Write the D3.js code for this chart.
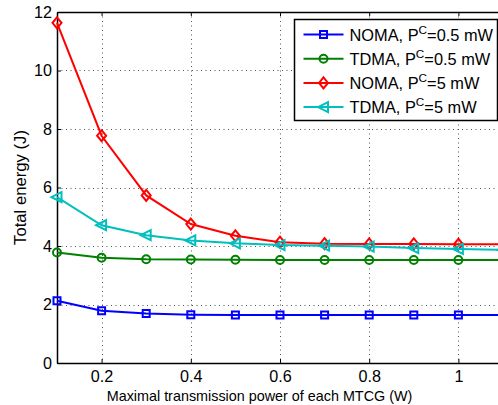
<!DOCTYPE html>
<html>
<head>
<meta charset="utf-8">
<script src="https://cdn.jsdelivr.net/npm/d3@7"></script>
<style>
  body { margin: 0; background: #fff; }
  svg { display: block; }
  text { font-family: "Liberation Sans", Arial, Helvetica, sans-serif; fill: #000; }
</style>
</head>
<body>
<div id="chart"></div>
<script>
// x values: maximal transmission power (W)
var power = [0.1, 0.2, 0.3, 0.4, 0.5, 0.6, 0.7, 0.8, 0.9, 1.0, 1.1];

// total energy (J)
var nomaLow  = [2.13, 1.79, 1.69, 1.65, 1.64, 1.64, 1.64, 1.64, 1.64, 1.64, 1.64];
var tdmaLow  = [3.78, 3.60, 3.55, 3.54, 3.53, 3.52, 3.52, 3.52, 3.52, 3.52, 3.52];
var nomaHigh = [11.63, 7.77, 5.73, 4.75, 4.35, 4.13, 4.08, 4.07, 4.07, 4.06, 4.06];
var tdmaHigh = [5.67, 4.71, 4.37, 4.19, 4.09, 4.03, 4.01, 3.98, 3.93, 3.90, 3.87];

var xTicks = [0.2, 0.4, 0.6, 0.8, 1];
var yTicks = [0, 2, 4, 6, 8, 10, 12];

var series = [
  { name: "NOMA, P", sup: "C", rest: "=0.5 mW", values: nomaLow,  color: "#0000ff", marker: "square" },
  { name: "TDMA, P", sup: "C", rest: "=0.5 mW", values: tdmaLow,  color: "#008000", marker: "circle" },
  { name: "NOMA, P", sup: "C", rest: "=5 mW",   values: nomaHigh, color: "#ff0000", marker: "diamond" },
  { name: "TDMA, P", sup: "C", rest: "=5 mW",   values: tdmaHigh, color: "#00bfbf", marker: "triangle" }
];

var config = {
  width: 498,
  height: 405,
  plot: { left: 57, top: 12, right: 503, bottom: 363 },
  lineWidth: 2
};

var svg = d3.select("#chart").append("svg")
  .attr("width", config.width)
  .attr("height", config.height);

// find the font size that gives a string a given width in the installed font
function fitSize(str, width) {
  var t = svg.append("text").attr("font-size", 100).text(str);
  var w = t.node().getComputedTextLength();
  t.remove();
  return 100 * width / w;
}
var tickFont = fitSize("0.2", 22.5);
var legendFont = fitSize("NOMA, P=0.5 mW", 135);

var x = d3.scaleLinear().domain([0.1, 1.1]).range([config.plot.left, config.plot.right]);
var y = d3.scaleLinear().domain([0, 12]).range([config.plot.bottom, config.plot.top]);

var ph = config.plot.bottom - config.plot.top;

// dotted grid
var grid = svg.append("g").attr("stroke", "#555").attr("stroke-width", 1)
  .attr("stroke-dasharray", "1,3.5");
grid.selectAll(".gx").data(xTicks).enter().append("line")
  .attr("x1", function (d) { return Math.round(x(d)) + 0.5; })
  .attr("x2", function (d) { return Math.round(x(d)) + 0.5; })
  .attr("y1", config.plot.top).attr("y2", config.plot.bottom);
grid.selectAll(".gy").data(yTicks.slice(1, -1)).enter().append("line")
  .attr("y1", function (d) { return Math.round(y(d)) + 0.5; })
  .attr("y2", function (d) { return Math.round(y(d)) + 0.5; })
  .attr("x1", config.plot.left).attr("x2", config.plot.right);

// axes with inward ticks
var xAxisB = d3.axisBottom(x).tickValues(xTicks).tickSizeInner(-4).tickSizeOuter(0)
  .tickPadding(8).tickFormat(d3.format("~g"));
var xAxisT = d3.axisTop(x).tickValues(xTicks).tickSizeInner(-4).tickSizeOuter(0).tickFormat("");
var yAxisL = d3.axisLeft(y).tickValues(yTicks).tickSizeInner(-4).tickSizeOuter(0).tickPadding(5);
var yAxisR = d3.axisRight(y).tickValues(yTicks).tickSizeInner(-4).tickSizeOuter(0).tickFormat("");

function styleAxis(g) {
  g.attr("font-size", tickFont).attr("font-family", null);
  g.selectAll("text").attr("fill", "#000");
  g.selectAll("line").attr("stroke", "#000");
  g.select(".domain").attr("stroke", "#000").attr("stroke-width", 1.5);
}

svg.append("g").attr("transform", "translate(0," + config.plot.bottom + ")").call(xAxisB).call(styleAxis);
svg.append("g").attr("transform", "translate(0," + config.plot.top + ")").call(xAxisT).call(styleAxis);
svg.append("g").attr("transform", "translate(" + config.plot.left + ",0)").call(yAxisL).call(styleAxis);
svg.append("g").attr("transform", "translate(" + config.plot.right + ",0)").call(yAxisR).call(styleAxis);

// lines and markers
var line = d3.line()
  .x(function (d, i) { return x(power[i]); })
  .y(function (d) { return y(d); });

function markerPath(type) {
  if (type === "diamond") return "M0,-5.5L4.5,0L0,5.5L-4.5,0Z";
  if (type === "triangle") return "M-5.5,0L4.5,-5L4.5,5Z";
  if (type === "square") return "M-3.5,-3.5H3.5V3.5H-3.5Z";
  return d3.symbol().type(d3.symbolCircle).size(50)();
}

var plotArea = svg.append("g");
series.forEach(function (s) {
  plotArea.append("path")
    .attr("d", line(s.values))
    .attr("fill", "none")
    .attr("stroke", s.color)
    .attr("stroke-width", config.lineWidth);
  plotArea.selectAll(null).data(s.values).enter().append("path")
    .attr("transform", function (d, i) { return "translate(" + x(power[i]) + "," + y(d) + ")"; })
    .attr("d", markerPath(s.marker))
    .attr("fill", "none")
    .attr("stroke", s.color)
    .attr("stroke-width", config.lineWidth);
});

// axis labels
var xLabel = "Maximal transmission power of each MTCG (W)";
var yLabel = "Total energy (J)";
svg.append("text")
  .attr("x", 259.5).attr("y", 401)
  .attr("text-anchor", "middle")
  .attr("font-size", fitSize(xLabel, 306))
  .text(xLabel);
svg.append("text")
  .attr("transform", "translate(26," + (config.plot.top + ph / 2) + ") rotate(-90)")
  .attr("text-anchor", "middle")
  .attr("font-size", fitSize(yLabel, 115))
  .text(yLabel);

// legend
var legend = svg.append("g").attr("transform", "translate(294.5,19.5)");
legend.append("rect")
  .attr("width", 203).attr("height", 101)
  .attr("fill", "#fff").attr("stroke", "#000").attr("stroke-width", 1.5);
var rows = legend.selectAll(".row").data(series).enter().append("g")
  .attr("transform", function (d, i) { return "translate(0," + (15 + i * 24.2) + ")"; });
rows.append("line")
  .attr("x1", 9).attr("x2", 49).attr("y1", 0).attr("y2", 0)
  .attr("stroke", function (d) { return d.color; })
  .attr("stroke-width", config.lineWidth);
rows.append("path")
  .attr("transform", "translate(29,0)")
  .attr("d", function (d) { return markerPath(d.marker); })
  .attr("fill", "none")
  .attr("stroke", function (d) { return d.color; })
  .attr("stroke-width", config.lineWidth);
var labels = rows.append("text")
  .attr("x", 55).attr("y", 6)
  .attr("font-size", legendFont);
labels.append("tspan").text(function (d) { return d.name; });
labels.append("tspan").attr("dy", -7).attr("font-size", legendFont * 0.72).text(function (d) { return d.sup; });
labels.append("tspan").attr("dy", 7).text(function (d) { return d.rest; });
</script>
</body>
</html>
